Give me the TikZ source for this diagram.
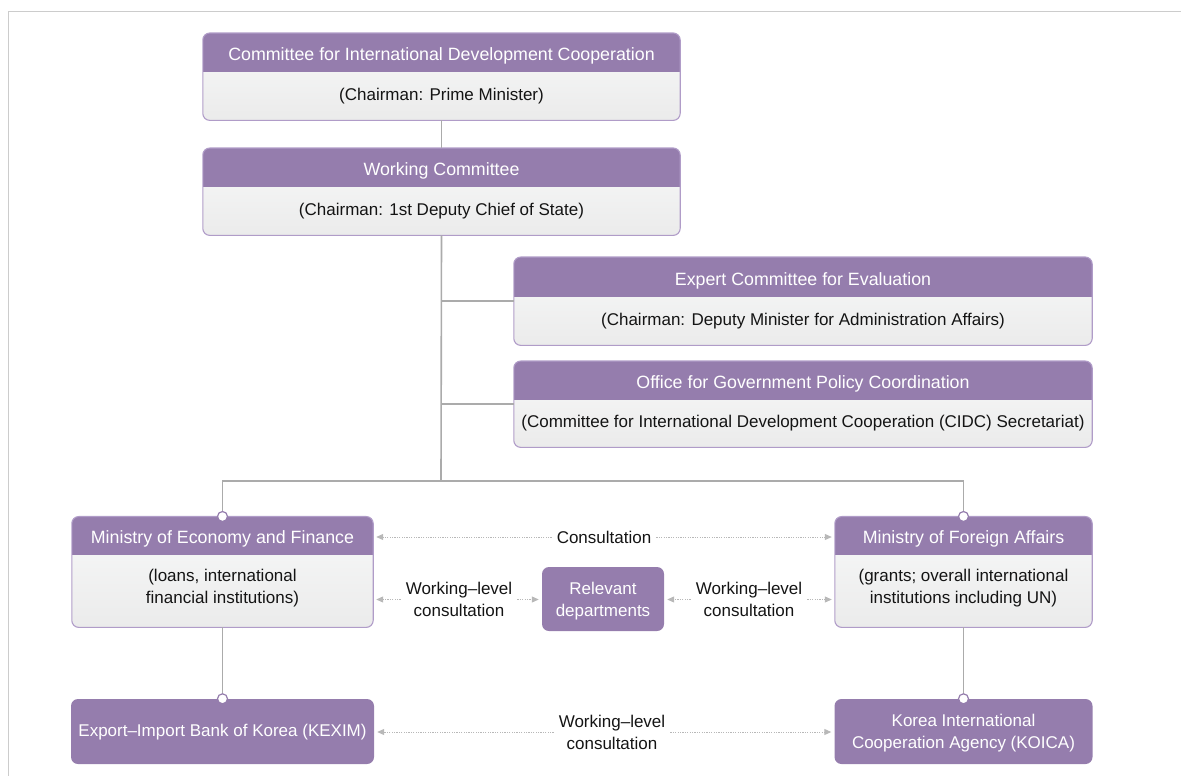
\documentclass[tikz,border=0pt]{standalone}
\usepackage{fontspec}
\setmainfont{Liberation Sans}
\usetikzlibrary{arrows.meta,calc}
\definecolor{hpurple}{HTML}{957DAD}
\definecolor{bline}{HTML}{B09CC8}
\definecolor{cgray}{HTML}{ABABAB}
\definecolor{agray}{HTML}{B8B8B8}
\definecolor{framegray}{HTML}{CCCCCC}
\definecolor{btop}{HTML}{F8F9F9}
\definecolor{bbot}{HTML}{EBEBEB}
\definecolor{txt}{HTML}{141414}
\tikzset{
 outerbox/.style={rounded corners=7pt, top color=btop, bottom color=bbot, inner sep=0pt},
 borderline/.style={draw=bline, line width=1.1pt, rounded corners=7pt},
 headtext/.style={text=white, font=\fontsize{17.8}{21}\selectfont, inner sep=2pt},
 bodytext/.style={text=txt, font=\fontsize{17}{22}\selectfont, align=center, inner sep=2pt},
 solidbox/.style={fill=hpurple, rounded corners=7pt, inner sep=0pt},
 solidtext/.style={text=white, font=\fontsize{17}{22}\selectfont, align=center, inner sep=2pt},
 conn/.style={draw=cgray, line width=1.6pt},
 dot/.style={circle, draw=hpurple, fill=white, line width=1.2pt, minimum size=10pt, inner sep=0pt},
 darr/.style={draw=agray, line width=1pt, dash pattern=on 1.2pt off 1.2pt, -{Triangle[length=7pt,width=6pt]}, shorten >=3pt},
 lbl/.style={text=txt, font=\fontsize{17}{22}\selectfont, align=center, inner sep=5pt},
}
% name, centre x, top y, width, height, header height, title, body, body shift
\newcommand{\twobox}[9]{%
 \node[outerbox, minimum width=#4pt, minimum height=#5pt, anchor=north] (#1) at (#2,#3) {};
 \begin{scope}
  \clip[rounded corners=7pt] (#1.north west) rectangle (#1.south east);
  \fill[hpurple] (#1.north west) rectangle ([yshift=-#6pt]#1.north east);
 \end{scope}
 \draw[borderline] (#1.north west) rectangle (#1.south east);
 \node[headtext] (#1-h) at (#2,{#3+#6/2+3.5}) {#7};
 \node[bodytext] (#1-b) at (#2,{#3+(#5+#6)/2+#9}) {#8};
}
\begin{document}
\begin{tikzpicture}[x=1pt,y=-1pt]
\useasboundingbox (0,0) rectangle (1181,776);
\draw[framegray, line width=1pt] (8,776) -- (8,12) -- (1181,12);

\twobox{cidc}{441.5}{33}{477}{87}{39}{Committee for International Development Cooperation}{(Chairman: Prime Minister)}{0}
\twobox{wc}{441.5}{148}{477}{87}{39}{Working Committee}{(Chairman: 1st Deputy Chief of State)}{0}
\twobox{expert}{803}{257}{578}{88}{40}{Expert Committee for Evaluation}{(Chairman: Deputy Minister for Administration Affairs)}{0}
\twobox{office}{803}{361}{578}{86}{39}{Office for Government Policy Coordination}{(Committee for International Development Cooperation (CIDC) Secretariat)}{0}
\twobox{moef}{222.5}{516.5}{301}{110.5}{38.5}{Ministry of Economy and Finance}{(loans, international\\financial institutions)}{-2.5}
\twobox{mofa}{963.5}{516.5}{257}{110.5}{38.5}{Ministry of Foreign Affairs}{(grants; overall international\\institutions including UN)}{-2.5}

\node[solidbox, minimum width=122pt, minimum height=64pt] (rel) at (603,599) {};
\node[solidtext] (rel-t) at (603,601) {Relevant\\departments};
\node[solidbox, minimum width=303pt, minimum height=65pt] (kexim) at (222.5,731.5) {};
\node[solidtext] (kexim-t) at (222.5,732) {Export–Import Bank of Korea (KEXIM)};
\node[solidbox, minimum width=258pt, minimum height=65pt] (koica) at (963.5,731.5) {};
\node[solidtext] (koica-t) at (963.5,733.5) {Korea International\\Cooperation Agency (KOICA)};

% connectors
\coordinate (jE) at (441,301);
\coordinate (jO) at (441,404);
\coordinate (jB) at (441,481);
\draw[conn] (cidc.south) -- (wc.north);
\draw[conn] (wc.south) -- (jB);
\draw[conn] (jE) -- (expert.west |- jE);
\draw[conn] (jO) -- (office.west |- jO);
\draw[conn] (moef.north) |- (jB) -| (mofa.north);
\draw[conn] (moef.south) -- (kexim.north);
\draw[conn] (mofa.south) -- (koica.north);
\node[dot] (d1) at (moef.north) {};
\node[dot] (d2) at (mofa.north) {};
\node[dot] (d3) at (kexim.north) {};
\node[dot] (d4) at (koica.north) {};

% consultation labels and arrows
\node[lbl] (cons) at (604,537) {Consultation};
\node[lbl] (wl1) at (459,599.5) {Working–level\\consultation};
\node[lbl] (wl2) at (749,599.5) {Working–level\\consultation};
\node[lbl] (wl3) at (612,732) {Working–level\\consultation};
\draw[darr] (cons.west) -- (cons.west -| moef.east);
\draw[darr] (cons.east) -- (cons.east -| mofa.west);
\draw[darr] (wl1.west) -- (wl1.west -| moef.east);
\draw[darr] (wl1.east) -- (wl1.east -| rel.west);
\draw[darr] (wl2.west) -- (wl2.west -| rel.east);
\draw[darr] (wl2.east) -- (wl2.east -| mofa.west);
\draw[darr] (wl3.west) -- (wl3.west -| kexim.east);
\draw[darr] (wl3.east) -- (wl3.east -| koica.west);
\end{tikzpicture}
\end{document}
